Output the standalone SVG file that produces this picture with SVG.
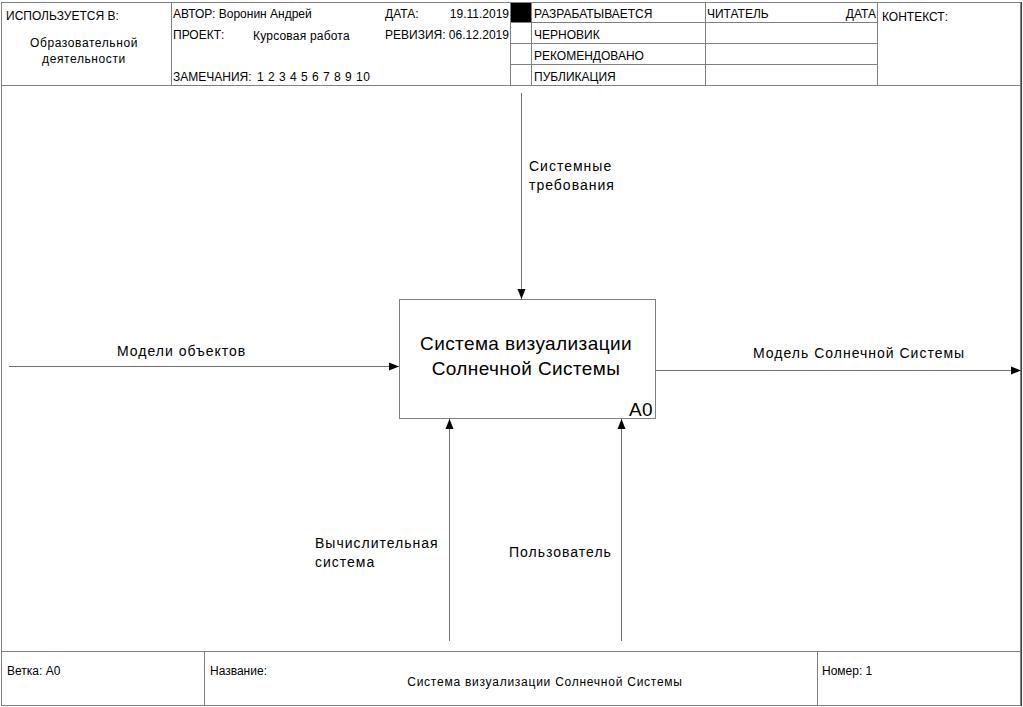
<svg xmlns="http://www.w3.org/2000/svg" width="1023" height="707" viewBox="0 0 1023 707">
<style>
.ln{stroke:#808080;stroke-width:1;fill:none}
.dk{stroke:#404040;stroke-width:1;fill:none}
.t{font-family:"Liberation Sans",Arial,sans-serif;font-size:12px;fill:#000}
.s{font-family:"Liberation Sans",Arial,sans-serif;font-size:12px;fill:#000}
.lb{font-family:"Liberation Sans",Arial,sans-serif;font-size:14px;letter-spacing:1px;fill:#000}
.c{stroke:#707070;stroke-width:1;fill:none}
.big{font-family:"Liberation Sans",Arial,sans-serif;font-size:19px;letter-spacing:0.4px;fill:#000}
</style>
<defs>
<marker id="ah" viewBox="0 0 10 10" refX="10" refY="5" markerWidth="10" markerHeight="10" markerUnits="userSpaceOnUse" orient="auto">
<path d="M0,1 L10,5 L0,9 Z" fill="#000"/>
</marker>
</defs>
<rect x="0" y="0" width="1023" height="707" fill="#fff"/>
<g id="frame">
<rect class="ln" x="1.5" y="2.5" width="1019" height="703"/>
<line class="dk" x1="1021.5" y1="2" x2="1021.5" y2="706"/>
<line class="ln" x1="1" y1="85.5" x2="1021" y2="85.5"/>
<line class="ln" x1="171.5" y1="2" x2="171.5" y2="85"/>
<line class="ln" x1="510.5" y1="2" x2="510.5" y2="85"/>
<line class="ln" x1="531.5" y1="2" x2="531.5" y2="85"/>
<line class="ln" x1="705.5" y1="2" x2="705.5" y2="85"/>
<line class="ln" x1="877.5" y1="2" x2="877.5" y2="85"/>
<line class="ln" x1="510" y1="22.5" x2="877" y2="22.5"/>
<line class="ln" x1="510" y1="43.5" x2="877" y2="43.5"/>
<line class="ln" x1="510" y1="64.5" x2="877" y2="64.5"/>
<rect x="511" y="3" width="20" height="19" fill="#000"/>
<line class="ln" x1="1" y1="651.5" x2="1021" y2="651.5"/>
<line class="ln" x1="204.5" y1="651" x2="204.5" y2="705"/>
<line class="ln" x1="817.5" y1="651" x2="817.5" y2="705"/>
</g>
<g id="header-text">
<text class="t" x="6" y="20">ИСПОЛЬЗУЕТСЯ В:</text>
<text class="t" x="84" y="47" text-anchor="middle" letter-spacing="0.6">Образовательной</text>
<text class="t" x="84" y="63" text-anchor="middle" letter-spacing="0.6">деятельности</text>
<text class="s" x="173" y="18">АВТОР: Воронин Андрей</text>
<text class="s" x="173" y="39">ПРОЕКТ:</text>
<text class="s" x="253" y="40" letter-spacing="0.2">Курсовая работа</text>
<text class="s" x="173" y="81">ЗАМЕЧАНИЯ:</text>
<text class="s" x="257" y="81" letter-spacing="0.5">1 2 3 4 5 6 7 8 9 10</text>
<text class="s" x="385" y="18">ДАТА:</text>
<text class="s" x="509" y="18" text-anchor="end">19.11.2019</text>
<text class="s" x="385" y="39">РЕВИЗИЯ: 06.12.2019</text>
<text class="s" x="534" y="18">РАЗРАБАТЫВАЕТСЯ</text>
<text class="s" x="534" y="39">ЧЕРНОВИК</text>
<text class="s" x="534" y="60">РЕКОМЕНДОВАНО</text>
<text class="s" x="534" y="81">ПУБЛИКАЦИЯ</text>
<text class="s" x="707" y="18">ЧИТАТЕЛЬ</text>
<text class="s" x="876" y="18" text-anchor="end">ДАТА</text>
<text class="t" x="882" y="21">КОНТЕКСТ:</text>
</g>
<g id="footer-text">
<text class="s" x="7" y="675">Ветка:  A0</text>
<text class="s" x="210" y="675">Название:</text>
<text class="s" x="545" y="686" text-anchor="middle" letter-spacing="0.75">Система визуализации Солнечной Системы</text>
<text class="s" x="822" y="675">Номер: 1</text>
</g>
<g id="A0">
<rect x="399.5" y="299.5" width="256" height="119" fill="#fff" stroke="#808080" stroke-width="1"/>
<text class="big" x="526" y="350" text-anchor="middle">Система визуализации</text>
<text class="big" x="526" y="375" text-anchor="middle">Солнечной Системы</text>
<text class="big" x="653" y="416" text-anchor="end" letter-spacing="0">A0</text>
</g>
<g id="connectors">
<line class="c" x1="521.5" y1="93" x2="521.5" y2="299" marker-end="url(#ah)"/>
<line class="c" x1="9" y1="366.5" x2="399" y2="366.5" marker-end="url(#ah)"/>
<line class="c" x1="656" y1="370.5" x2="1021" y2="370.5" marker-end="url(#ah)"/>
<line class="c" x1="449.5" y1="641" x2="449.5" y2="419" marker-end="url(#ah)"/>
<line class="c" x1="621.5" y1="641" x2="621.5" y2="419" marker-end="url(#ah)"/>
</g>
<g id="labels">
<text class="lb" x="529" y="171">Системные</text>
<text class="lb" x="529" y="190">требования</text>
<text class="lb" x="117" y="356">Модели объектов</text>
<text class="lb" x="753" y="358">Модель Солнечной Системы</text>
<text class="lb" x="315" y="548">Вычислительная</text>
<text class="lb" x="315" y="567">система</text>
<text class="lb" x="509" y="557">Пользователь</text>
</g>
</svg>
